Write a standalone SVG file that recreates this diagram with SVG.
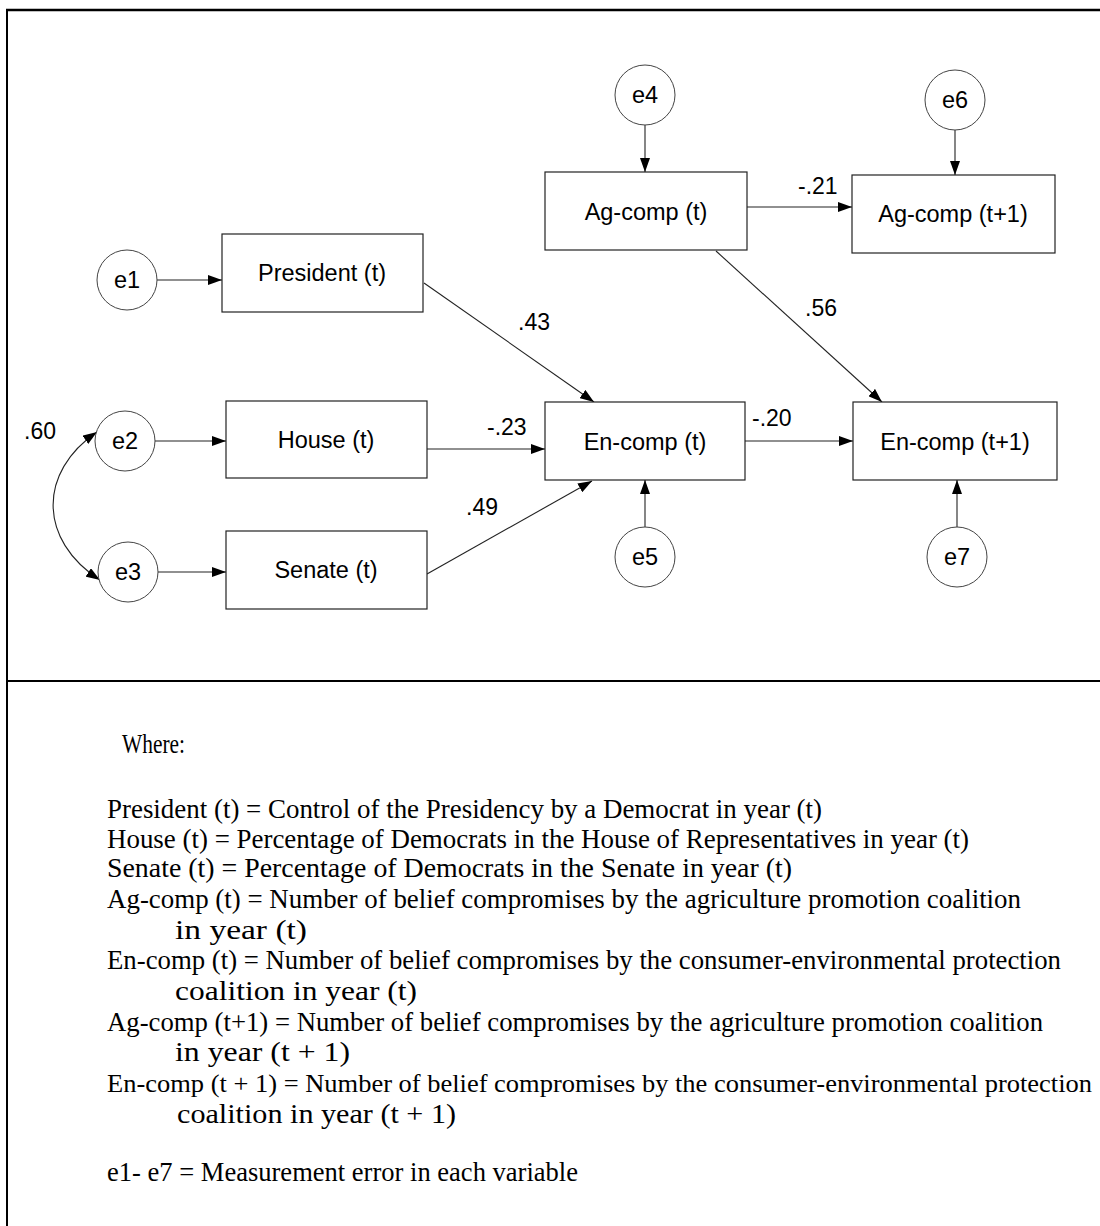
<svg xmlns="http://www.w3.org/2000/svg" width="1100" height="1226" viewBox="0 0 1100 1226">
<style>
.node rect{fill:#fff;stroke:#222;stroke-width:1.2}
.node circle{fill:#fff;stroke:#444;stroke-width:1}
.lbl{font-family:"Liberation Sans",Arial,sans-serif;font-size:23.5px;fill:#000;text-anchor:middle}
.coef{font-family:"Liberation Sans",Arial,sans-serif;font-size:23px;fill:#000}
.edge{stroke:#222;stroke-width:1.1;fill:none;marker-end:url(#ah)}
.leg{font-family:"Liberation Serif","Times New Roman",serif;font-size:27px;fill:#000}
</style>
<defs>
<marker id="ah" viewBox="0 0 14 10" refX="14" refY="5" markerWidth="14" markerHeight="10" markerUnits="userSpaceOnUse" orient="auto">
<path d="M0,0 L14,5 L0,10 z" fill="#000"/>
</marker>
<marker id="ahs" viewBox="0 0 14 10" refX="0" refY="5" markerWidth="14" markerHeight="10" markerUnits="userSpaceOnUse" orient="auto">
<path d="M14,0 L0,5 L14,10 z" fill="#000"/>
</marker>
</defs>
<rect width="1100" height="1226" fill="#fff"/>
<g id="frame" stroke="#000" fill="none">
<line x1="6" y1="10" x2="1100" y2="10" stroke-width="2.5"/>
<line x1="7" y1="9" x2="7" y2="1226" stroke-width="2"/>
<line x1="6" y1="681" x2="1100" y2="681" stroke-width="2"/>
</g>
<g id="connectors">
<line class="edge" x1="157" y1="280" x2="222" y2="280"/>
<line class="edge" x1="155" y1="441" x2="226" y2="441"/>
<line class="edge" x1="158" y1="572" x2="226" y2="572"/>
<line class="edge" x1="424" y1="283" x2="594" y2="402"/>
<line class="edge" x1="427" y1="449" x2="545" y2="449"/>
<line class="edge" x1="427" y1="574" x2="592" y2="481"/>
<line class="edge" x1="645" y1="125" x2="645" y2="172"/>
<line class="edge" x1="747" y1="207" x2="852" y2="207"/>
<line class="edge" x1="716" y1="251" x2="882" y2="402"/>
<line class="edge" x1="745" y1="441" x2="853" y2="441"/>
<line class="edge" x1="645" y1="527" x2="645" y2="480"/>
<line class="edge" x1="955" y1="130" x2="955" y2="175"/>
<line class="edge" x1="957" y1="527" x2="957" y2="480"/>
<path class="edge" d="M97,432 C38,472 38,540 100,580" stroke="#555" marker-start="url(#ahs)"/>
</g>
<g id="e1" class="node"><circle cx="127" cy="280" r="30"/><text class="lbl" x="127" y="288">e1</text></g>
<g id="e2" class="node"><circle cx="125" cy="441" r="30"/><text class="lbl" x="125" y="449">e2</text></g>
<g id="e3" class="node"><circle cx="128" cy="572" r="30"/><text class="lbl" x="128" y="580">e3</text></g>
<g id="e4" class="node"><circle cx="645" cy="95" r="30"/><text class="lbl" x="645" y="103">e4</text></g>
<g id="e5" class="node"><circle cx="645" cy="557" r="30"/><text class="lbl" x="645" y="565">e5</text></g>
<g id="e6" class="node"><circle cx="955" cy="100" r="30"/><text class="lbl" x="955" y="108">e6</text></g>
<g id="e7" class="node"><circle cx="957" cy="557" r="30"/><text class="lbl" x="957" y="565">e7</text></g>
<g id="president" class="node"><rect x="222" y="234" width="201" height="78"/><text class="lbl" x="322" y="281">President (t)</text></g>
<g id="house" class="node"><rect x="226" y="401" width="201" height="77"/><text class="lbl" x="326" y="448">House (t)</text></g>
<g id="senate" class="node"><rect x="226" y="531" width="201" height="78"/><text class="lbl" x="326" y="578">Senate (t)</text></g>
<g id="agcomp" class="node"><rect x="545" y="172" width="202" height="78"/><text class="lbl" x="646" y="220">Ag-comp (t)</text></g>
<g id="agcomp1" class="node"><rect x="852" y="175" width="203" height="78"/><text class="lbl" x="953" y="222">Ag-comp (t+1)</text></g>
<g id="encomp" class="node"><rect x="545" y="402" width="200" height="78"/><text class="lbl" x="645" y="450">En-comp (t)</text></g>
<g id="encomp1" class="node"><rect x="853" y="402" width="204" height="78"/><text class="lbl" x="955" y="450">En-comp (t+1)</text></g>
<g id="coefs">
<text class="coef" x="518" y="330">.43</text>
<text class="coef" x="805" y="316">.56</text>
<text class="coef" x="798" y="194">-.21</text>
<text class="coef" x="487" y="435">-.23</text>
<text class="coef" x="752" y="426">-.20</text>
<text class="coef" x="466" y="515">.49</text>
<text class="coef" x="24" y="439">.60</text>
</g>
<g id="legend">
<text class="leg" x="122" y="753" textLength="63" lengthAdjust="spacingAndGlyphs">Where:</text>
<text class="leg" x="107" y="818" textLength="715" lengthAdjust="spacingAndGlyphs">President (t) = Control of the Presidency by a Democrat in year (t)</text>
<text class="leg" x="107" y="848" textLength="862" lengthAdjust="spacingAndGlyphs">House (t) =  Percentage of Democrats in the House of Representatives in year (t)</text>
<text class="leg" x="107" y="877" textLength="685" lengthAdjust="spacingAndGlyphs">Senate (t) =  Percentage of Democrats in the Senate in year (t)</text>
<text class="leg" x="107" y="908" textLength="914" lengthAdjust="spacingAndGlyphs">Ag-comp (t) =  Number of belief compromises by the agriculture promotion coalition</text>
<text class="leg" x="175" y="939" textLength="132" lengthAdjust="spacingAndGlyphs">in year (t)</text>
<text class="leg" x="107" y="969" textLength="954" lengthAdjust="spacingAndGlyphs">En-comp (t) = Number of belief compromises by the consumer-environmental protection</text>
<text class="leg" x="175" y="1000" textLength="242" lengthAdjust="spacingAndGlyphs">coalition in year (t)</text>
<text class="leg" x="107" y="1031" textLength="936" lengthAdjust="spacingAndGlyphs">Ag-comp (t+1) = Number of belief compromises by the agriculture promotion coalition</text>
<text class="leg" x="175" y="1061" textLength="175" lengthAdjust="spacingAndGlyphs">in year (t + 1)</text>
<text class="leg" x="107" y="1092" textLength="985" lengthAdjust="spacingAndGlyphs" style="font-size:25px">En-comp (t + 1) = Number of belief compromises by the consumer-environmental protection</text>
<text class="leg" x="177" y="1123" textLength="279" lengthAdjust="spacingAndGlyphs">coalition in year (t + 1)</text>
<text class="leg" x="107" y="1181" textLength="471" lengthAdjust="spacingAndGlyphs">e1- e7 = Measurement error in each variable</text>
</g>
</svg>
